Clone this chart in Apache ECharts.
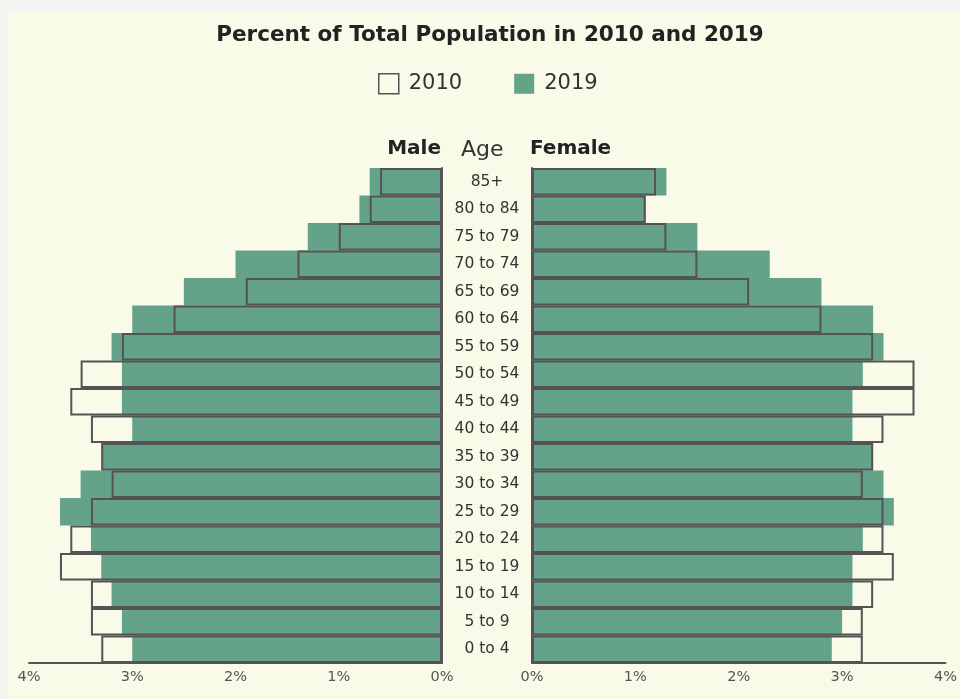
<!DOCTYPE html>
<html>
<head>
<meta charset="utf-8">
<script src="https://cdn.jsdelivr.net/npm/echarts@6/dist/echarts.min.js"></script>
<style>
html,body{margin:0;padding:0;background:#f4f4f3;}
#c{width:960px;height:699px;}
</style>
</head>
<body>
<div id="c"></div>
<script>
const ageGroups = ['85+','80 to 84','75 to 79','70 to 74','65 to 69','60 to 64','55 to 59','50 to 54','45 to 49','40 to 44','35 to 39','30 to 34','25 to 29','20 to 24','15 to 19','10 to 14','5 to 9','0 to 4'];
const male2010   = [0.6,0.7,1.0,1.4,1.9,2.6,3.1,3.5,3.6,3.4,3.3,3.2,3.4,3.6,3.7,3.4,3.4,3.3];
const male2019   = [0.7,0.8,1.3,2.0,2.5,3.0,3.2,3.1,3.1,3.0,3.3,3.5,3.7,3.4,3.3,3.2,3.1,3.0];
const female2010 = [1.2,1.1,1.3,1.6,2.1,2.8,3.3,3.7,3.7,3.4,3.3,3.2,3.4,3.4,3.5,3.3,3.2,3.2];
const female2019 = [1.3,1.1,1.6,2.3,2.8,3.3,3.4,3.2,3.1,3.1,3.3,3.4,3.5,3.2,3.1,3.1,3.0,2.9];
const xTicks = [0,1,2,3,4];

const FONT = '"DejaVu Sans", sans-serif';
const GREEN = '#64a389';
const DARK = '#545454';
const BG = '#f9fae7';

const chart = echarts.init(document.getElementById('c'));

function xAxis(gridIndex, inverse){
  return {
    type:'value', gridIndex, min:xTicks[0], max:xTicks[xTicks.length-1], interval:1, inverse,
    axisLine:{show:true, lineStyle:{color:DARK, width:2}},
    axisTick:{show:false}, splitLine:{show:false},
    axisLabel:{formatter:'{value}%', color:'#555', fontFamily:FONT, fontSize:14.5, margin:7}
  };
}
function yAxis(gridIndex, showLabels){
  return {
    type:'category', gridIndex, data:ageGroups, inverse:true,
    axisLine:{show:true, onZero:true, lineStyle:{color:DARK, width:2}},
    axisTick:{show:false},
    axisLabel:{show:showLabels, color:'#333', fontFamily:FONT, fontSize:15.5, align:'center', margin:45}
  };
}
function series(name, data, axis, outline){
  return {
    name, type:'bar', xAxisIndex:axis, yAxisIndex:axis, data,
    barGap:'-100%', barCategoryGap:0, silent:true, z: outline?3:2,
    itemStyle: outline ? {color:'rgba(0,0,0,0)', borderColor:DARK, borderWidth:2}
                       : {color:GREEN}
  };
}

chart.setOption({
  animation:false,
  backgroundColor:'transparent',
  graphic:[
    {type:'rect', shape:{x:8,y:11,width:952,height:688}, style:{fill:BG}, z:-10, silent:true},
    {type:'text', right:960-441, top:139, style:{text:'Male', font:'bold 20px '+FONT, fill:'#222'}},
    {type:'text', left:461, top:139, style:{text:'Age', font:'22px '+FONT, fill:'#333'}},
    {type:'text', left:530, top:139, style:{text:'Female', font:'bold 20px '+FONT, fill:'#222'}}
  ],
  title:{text:'Percent of Total Population in 2010 and 2019', left:485, textAlign:'center', top:19,
    textStyle:{fontFamily:FONT, fontWeight:'bold', fontSize:21.5, color:'#222'}},
  legend:{
    top:68, left:373, itemWidth:20, itemHeight:20, itemGap:52, icon:'rect',
    textStyle:{fontFamily:FONT, fontSize:21, color:'#333', padding:[0,0,0,5]},
    data:[
      {name:'2010', itemStyle:{color:BG, borderColor:DARK, borderWidth:1.5}},
      {name:'2019', itemStyle:{color:GREEN}}
    ]
  },
  grid:[
    {left:29, right:518, top:168, bottom:36},
    {left:532, right:13, top:168, bottom:36}
  ],
  xAxis:[xAxis(0,true), xAxis(1,false)],
  yAxis:[Object.assign(yAxis(0,false),{position:'right'}), yAxis(1,true)],
  series:[
    series('2019', male2019, 0, false),
    series('2010', male2010, 0, true),
    series('2019', female2019, 1, false),
    series('2010', female2010, 1, true)
  ]
});
</script>
</body>
</html>
